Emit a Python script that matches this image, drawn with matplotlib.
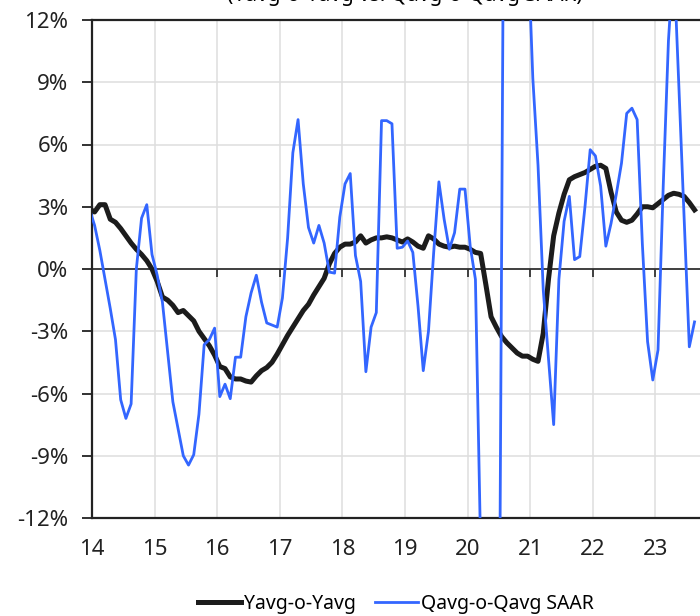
import matplotlib
matplotlib.use("Agg")
import matplotlib.pyplot as plt
import numpy as np
import pandas as pd

plt.rcParams['font.family'] = ['Noto Sans', 'DejaVu Sans']

# monthly data, Dec 2013 .. Aug 2023 (first point sits left of the axis)
months = pd.period_range('2013-12', '2023-08', freq='M')

yoy = [2.9,
       2.75, 3.1, 3.1, 2.4, 2.25, 1.95, 1.6, 1.25, 0.95, 0.7, 0.4, 0.0,
       -0.6, -1.35, -1.5, -1.75, -2.1, -2.0, -2.25, -2.5, -3.0, -3.35, -3.7, -4.15,
       -4.7, -4.8, -5.2, -5.3, -5.3, -5.4, -5.45, -5.15, -4.9, -4.75, -4.5, -4.1,
       -3.65, -3.2, -2.8, -2.4, -2.0, -1.7, -1.25, -0.85, -0.45, 0.25, 0.75, 1.05,
       1.2, 1.2, 1.3, 1.6, 1.25, 1.4, 1.5, 1.5, 1.55, 1.5, 1.4, 1.3,
       1.45, 1.3, 1.1, 1.0, 1.6, 1.45, 1.2, 1.1, 1.05, 1.1, 1.05, 1.05,
       0.95, 0.8, 0.75, -0.75, -2.3, -2.8, -3.25, -3.55, -3.8, -4.05, -4.2, -4.2,
       -4.35, -4.45, -3.1, -0.5, 1.6, 2.7, 3.6, 4.3, 4.45, 4.55, 4.65, 4.8,
       4.95, 5.0, 4.85, 3.7, 2.75, 2.35, 2.25, 2.35, 2.65, 3.0, 3.0, 2.95,
       3.15, 3.35, 3.55, 3.65, 3.6, 3.5, 3.2, 2.85]

qoq_saar = [2.9,
            2.1, 0.9, -0.5, -1.9, -3.4, -6.3, -7.2, -6.5, 0.0, 2.45, 3.1, 0.7,
            -0.3, -1.6, -4.0, -6.4, -7.7, -9.0, -9.45, -8.95, -7.0, -3.65, -3.4, -2.85,
            -6.15, -5.55, -6.25, -4.25, -4.25, -2.3, -1.15, -0.3, -1.6, -2.6, -2.7, -2.8,
            -1.4, 1.5, 5.6, 7.2, 4.1, 2.0, 1.25, 2.1, 1.25, -0.15, -0.2, 2.5,
            4.1, 4.6, 0.65, -0.6, -4.95, -2.8, -2.1, 7.15, 7.15, 7.0, 1.0, 1.05,
            1.35, 0.8, -1.8, -4.9, -3.0, 0.8, 4.2, 2.4, 0.95, 1.75, 3.85, 3.85,
            1.1, -0.5, -13.5, -40.0, -60.0, -45.0, 0.0, 45.0, 60.0, 40.0, 25.0, 16.0,
            9.2, 5.0, -1.0, -4.3, -7.5, -0.5, 2.3, 3.5, 0.45, 0.6, 3.0, 5.75,
            5.45, 4.0, 1.1, 2.2, 3.6, 5.1, 7.5, 7.75, 7.2, 1.2, -3.5, -5.35,
            -3.9, 4.0, 11.0, 15.0, 8.8, 2.5, -3.75, -2.55]

years = list(range(2014, 2024))
year_labels = [str(y)[2:] for y in years]
y_ticks = list(range(-12, 13, 3))

x = months.year + (months.month - 0.5) / 12

fig = plt.figure(figsize=(7, 6.16), dpi=100)
ax = fig.add_axes([92 / 700, 98 / 616, 626 / 700, 498 / 616])

ax.plot(x, yoy, color='#1c1c1c', lw=3.6, solid_joinstyle='round', label='Yavg-o-Yavg', zorder=3)
ax.plot(x, qoq_saar, color='#3366ff', lw=2.0, label='Qavg-o-Qavg SAAR', zorder=4)

ax.set_xlim(2014, 2024)
ax.set_ylim(-12, 12)
ax.set_xticks(years)
ax.set_xticklabels(year_labels)
ax.set_yticks(y_ticks)
ax.set_yticklabels([f'{v}%' for v in y_ticks])
ax.grid(True, color='#dedede', lw=1.1)
ax.set_axisbelow(True)

# zero line with small year ticks hanging below it
ax.axhline(0, color='#333333', lw=1.3, zorder=2)
ax.plot(years, np.zeros(len(years)), ls='none', marker=3, ms=6, mew=1.3, color='#333333', zorder=2)

for s in ['left', 'bottom', 'top']:
    ax.spines[s].set_color('#222222')
    ax.spines[s].set_linewidth(1.6)
ax.spines['right'].set_visible(False)

ax.tick_params(axis='x', length=0, pad=15, labelsize=16, colors='#222222')
ax.tick_params(axis='y', length=7, width=1.3, pad=10, labelsize=16, colors='#222222')

ax.set_title('(Yavg-o-Yavg vs. Qavg-o-Qavg SAAR)', fontsize=15, fontweight='bold', pad=14)

fig.legend(loc='center', bbox_to_anchor=(0.566, 0.02), ncol=2, frameon=False,
           fontsize=14, handlelength=2.2, handletextpad=0.15, columnspacing=1.0)

fig.savefig('out.png', dpi=100)
